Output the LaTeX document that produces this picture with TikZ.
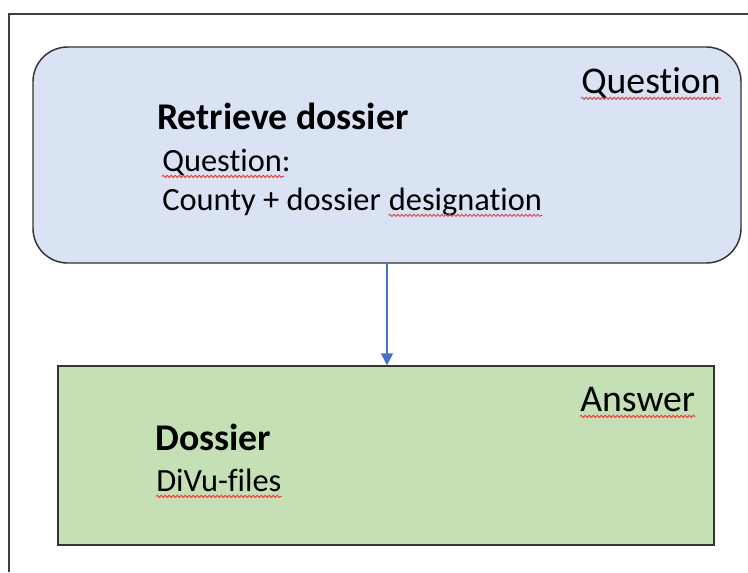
\documentclass[tikz,border=0pt]{standalone}
\usepackage{fontspec}
\setmainfont{Carlito}[Ligatures=NoCommon]
\usetikzlibrary{arrows.meta,decorations.pathmorphing}
\definecolor{qfill}{HTML}{DAE3F3}
\definecolor{afill}{HTML}{C5E0B4}
\definecolor{flowblue}{HTML}{4472C4}
\definecolor{spell}{HTML}{F03C3C}

\begin{document}
\begin{tikzpicture}[x=0.75pt,y=-0.75pt,
  box/.style={draw=black!80,line width=1.1pt,inner sep=0pt},
  big/.style={anchor=base west,inner sep=0pt,font=\fontsize{28.3}{34}\selectfont},
  body/.style={anchor=base west,inner sep=0pt,font=\fontsize{24.3}{29}\selectfont},
  wavy/.style={draw=spell,line width=0.7pt,decorate,decoration={snake,amplitude=0.8pt,segment length=3pt}},
  flow/.style={draw=flowblue,line width=1.1pt,-{Triangle[length=9pt,width=9pt]}}]
\useasboundingbox (0,0) rectangle (748,572);
\draw[black!75,line width=1.5pt] (9,572) |- (748,14);
\node[box,fill=qfill,rounded corners=26pt,minimum width=531pt,minimum height=162pt] (qbox) at (387,155) {};
\node[box,fill=afill,minimum width=492pt,minimum height=134.25pt] (abox) at (386,455.5) {};
\draw[flow] (qbox.south) -- (qbox.south |- abox.north);
\node[big] (qlabel) at (581,93) {Question};
\node[big,font=\fontsize{28.3}{34}\bfseries] (qhead) at (157,129) {Retrieve dossier};
\node[body] (qq) at (162,171) {Question:};
\node[body] (qcty) at (162,210) {County + dossier};
\node[body] (qdsg) at ([xshift=5.5pt]qcty.base east) {designation};
\node[big] (alabel) at (580,411) {Answer};
\node[big,font=\fontsize{28.3}{34}\bfseries] (ahead) at (155,450) {Dossier};
\node[body] (afiles) at (156,491) {DiVu-files};
\draw[wavy] ([yshift=-4pt]qlabel.base west) -- ([yshift=-4pt]qlabel.base east);
\draw[wavy] ([yshift=-4pt]qq.base west) -- ([yshift=-4pt,xshift=-5pt]qq.base east);
\draw[wavy] ([yshift=-4pt]qdsg.base west) -- ([yshift=-4pt]qdsg.base east);
\draw[wavy] ([yshift=-4pt]alabel.base west) -- ([yshift=-4pt]alabel.base east);
\draw[wavy] ([yshift=-4pt]afiles.base west) -- ([yshift=-4pt]afiles.base east);
\end{tikzpicture}
\end{document}
